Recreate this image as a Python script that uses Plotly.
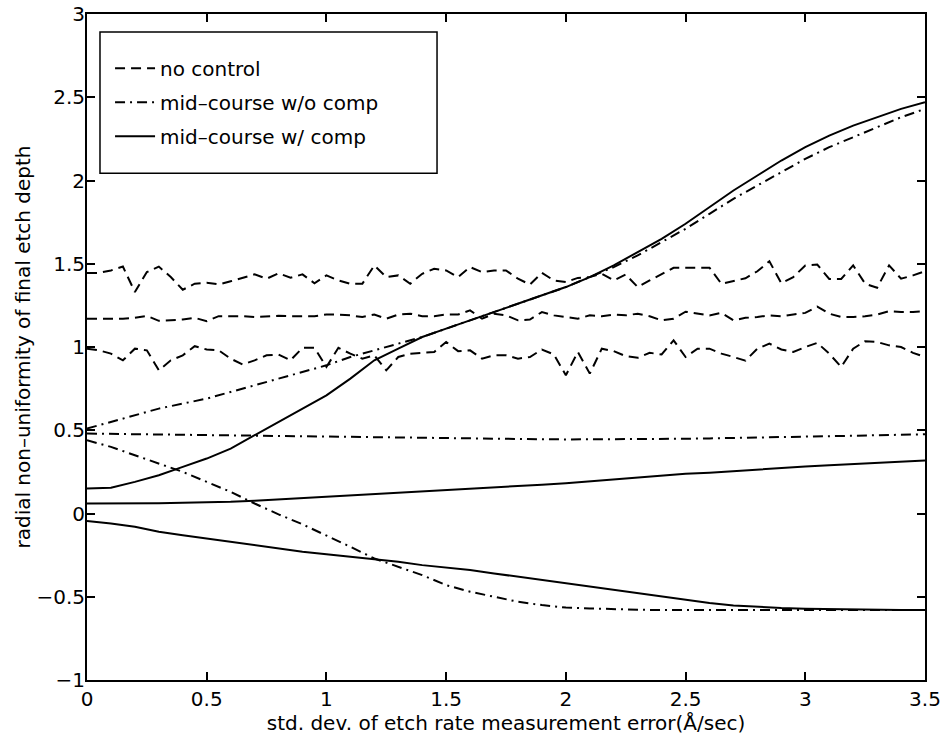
import numpy as np
import plotly.graph_objects as go

# ---- data ----
x_noise = [round(i * 0.05, 2) for i in range(71)]
x_smooth = [round(i * 0.1, 1) for i in range(36)]

no_ctrl_upper = [1.445, 1.445, 1.46, 1.483, 1.33, 1.45, 1.483, 1.42, 1.344, 1.38,
                 1.386, 1.376, 1.395, 1.416, 1.436, 1.41, 1.443, 1.416, 1.436, 1.383,
                 1.43, 1.40, 1.38, 1.38, 1.49, 1.42, 1.43, 1.38, 1.44, 1.47,
                 1.46, 1.42, 1.48, 1.45, 1.46, 1.46, 1.41, 1.375, 1.445, 1.40,
                 1.39, 1.415, 1.42, 1.44, 1.40, 1.435, 1.36, 1.40, 1.436, 1.476,
                 1.476, 1.476, 1.476, 1.379, 1.395, 1.413, 1.455, 1.515, 1.383, 1.42,
                 1.49, 1.495, 1.409, 1.409, 1.49, 1.38, 1.356, 1.49, 1.41, 1.43, 1.455]
no_ctrl_mid = [1.17, 1.17, 1.168, 1.17, 1.175, 1.187, 1.157, 1.16, 1.165, 1.175,
               1.155, 1.185, 1.185, 1.185, 1.18, 1.185, 1.187, 1.185, 1.185, 1.185,
               1.195, 1.195, 1.19, 1.18, 1.195, 1.17, 1.195, 1.2, 1.185, 1.185,
               1.195, 1.195, 1.22, 1.17, 1.2, 1.19, 1.16, 1.165, 1.21, 1.19,
               1.18, 1.17, 1.19, 1.185, 1.195, 1.19, 1.2, 1.185, 1.16, 1.17,
               1.212, 1.2, 1.19, 1.205, 1.16, 1.175, 1.18, 1.19, 1.185, 1.195,
               1.205, 1.243, 1.2, 1.18, 1.18, 1.185, 1.195, 1.215, 1.21, 1.21, 1.215]
no_ctrl_lower = [0.99, 0.98, 0.96, 0.92, 0.99, 0.98, 0.86, 0.92, 0.95, 1.005,
                 0.985, 0.98, 0.93, 0.895, 0.92, 0.95, 0.955, 0.92, 0.995, 0.995,
                 0.88, 0.995, 0.96, 0.93, 0.95, 0.86, 0.94, 0.96, 0.965, 0.97,
                 1.03, 0.975, 0.98, 0.93, 0.95, 0.95, 0.93, 0.94, 0.985, 0.955,
                 0.83, 0.97, 0.84, 0.99, 0.975, 0.945, 0.935, 0.965, 0.955, 1.04,
                 0.94, 0.99, 0.99, 0.96, 0.94, 0.918, 0.99, 1.02, 0.985, 0.97,
                 1.0, 1.025, 0.96, 0.88, 0.99, 1.035, 1.03, 1.01, 1.0, 0.965, 0.94]

wo_comp_upper = [0.51, 0.55, 0.59, 0.63, 0.66, 0.69, 0.73, 0.77, 0.81, 0.85,
                 0.89, 0.94, 0.98, 1.02, 1.06, 1.11, 1.16, 1.21, 1.26, 1.31,
                 1.36, 1.42, 1.48, 1.55, 1.63, 1.71, 1.80, 1.89, 1.97, 2.05,
                 2.13, 2.20, 2.26, 2.32, 2.38, 2.43]
wo_comp_mid = [0.48, 0.478, 0.476, 0.475, 0.473, 0.472, 0.47, 0.468, 0.466, 0.464,
               0.462, 0.46, 0.458, 0.456, 0.454, 0.452, 0.45, 0.449, 0.447, 0.446,
               0.445, 0.445, 0.445, 0.446, 0.447, 0.449, 0.451, 0.453, 0.456, 0.458,
               0.461, 0.464, 0.467, 0.47, 0.473, 0.476]
wo_comp_lower = [0.44, 0.40, 0.35, 0.30, 0.25, 0.19, 0.13, 0.06, -0.005, -0.065,
                 -0.13, -0.20, -0.27, -0.32, -0.37, -0.43, -0.47, -0.50, -0.53, -0.55,
                 -0.565, -0.57, -0.575, -0.578, -0.58, -0.58, -0.58, -0.58, -0.58, -0.58,
                 -0.58, -0.58, -0.58, -0.58, -0.58, -0.58]

w_comp_upper = [0.15, 0.155, 0.19, 0.23, 0.28, 0.33, 0.39, 0.47, 0.55, 0.63,
                0.71, 0.81, 0.92, 0.99, 1.06, 1.11, 1.16, 1.21, 1.26, 1.31,
                1.36, 1.42, 1.49, 1.57, 1.65, 1.74, 1.84, 1.94, 2.03, 2.12,
                2.20, 2.27, 2.33, 2.38, 2.43, 2.47]
w_comp_mid = [0.06, 0.06, 0.06, 0.062, 0.065, 0.067, 0.07, 0.077, 0.085, 0.092,
              0.1, 0.107, 0.115, 0.122, 0.13, 0.137, 0.145, 0.155, 0.165, 0.173,
              0.182, 0.193, 0.205, 0.218, 0.23, 0.238, 0.245, 0.255, 0.265, 0.273,
              0.282, 0.29, 0.297, 0.305, 0.312, 0.318]
w_comp_lower = [-0.045, -0.06, -0.08, -0.11, -0.13, -0.15, -0.17, -0.19, -0.21, -0.23,
                -0.245, -0.26, -0.275, -0.29, -0.31, -0.325, -0.34, -0.36, -0.38, -0.40,
                -0.42, -0.44, -0.46, -0.48, -0.50, -0.52, -0.537, -0.552, -0.562, -0.568,
                -0.572, -0.575, -0.577, -0.578, -0.58, -0.58]

legend_names = ["no control", "mid\u2013course w/o comp", "mid\u2013course w/ comp"]
x_ticks = [0, 0.5, 1, 1.5, 2, 2.5, 3, 3.5]
y_ticks = [-1, -0.5, 0, 0.5, 1, 1.5, 2, 2.5, 3]

# ---- figure ----
FONT = "DejaVu Sans, Liberation Sans, Arial, sans-serif"
FS = 20
dash_style = "10px,6px"
dashdot_style = "10px,5px,2px,5px"

fig = go.Figure()

groups = [
    (legend_names[0], x_noise, [no_ctrl_upper, no_ctrl_mid, no_ctrl_lower], dash_style, "g1"),
    (legend_names[1], x_smooth, [wo_comp_upper, wo_comp_mid, wo_comp_lower], dashdot_style, "g2"),
    (legend_names[2], x_smooth, [w_comp_upper, w_comp_mid, w_comp_lower], "solid", "g3"),
]
for name, xs, series, dash, grp in groups:
    for k, ys in enumerate(series):
        fig.add_trace(go.Scatter(
            x=xs, y=ys, mode="lines", name=name,
            line=dict(color="black", width=2, dash=dash),
            legendgroup=grp, showlegend=(k == 0),
        ))

axis_common = dict(
    showline=True, linecolor="black", linewidth=2, mirror="ticks",
    ticks="inside", ticklen=8, tickwidth=1.5, tickcolor="black",
    showgrid=False, zeroline=False, automargin=False,
    ticklabeloverflow="allow",
    tickfont=dict(family=FONT, size=FS, color="black"),
)

fig.update_layout(
    width=943, height=735,
    margin=dict(l=87, r=18, t=14, b=55),
    plot_bgcolor="white", paper_bgcolor="white",
    font=dict(family=FONT, size=FS, color="black"),
    xaxis=dict(range=[0, 3.5], tickvals=x_ticks, ticktext=[str(v) for v in x_ticks],
               title=dict(text="std. dev. of etch rate measurement error(Å/sec)",
                          font=dict(family=FONT, size=FS), standoff=0),
               **axis_common),
    yaxis=dict(range=[-1, 3], tickvals=y_ticks,
               ticktext=["\u22121", "\u22120.5", "0", "0.5", "1", "1.5", "2", "2.5", "3"],
               ticklabelstandoff=-4,
               title=dict(text="radial non\u2013uniformity of final etch depth",
                          font=dict(family=FONT, size=FS), standoff=0),
               **axis_common),
    legend=dict(x=0.0275, y=0.948, xanchor="left", yanchor="top",
                bgcolor="rgba(0,0,0,0)", borderwidth=0, tracegroupgap=5,
                itemwidth=40, font=dict(family=FONT, size=FS)),
    shapes=[dict(type="rect", xref="paper", yref="paper",
                 x0=0.0155, x1=0.4177, y0=0.761, y1=0.973,
                 line=dict(color="black", width=1.5), fillcolor="rgba(0,0,0,0)")],
)

fig.write_html("out.html", config={"displayModeBar": False},
               post_script="document.body.style.margin='0';document.body.style.overflow='hidden';")
